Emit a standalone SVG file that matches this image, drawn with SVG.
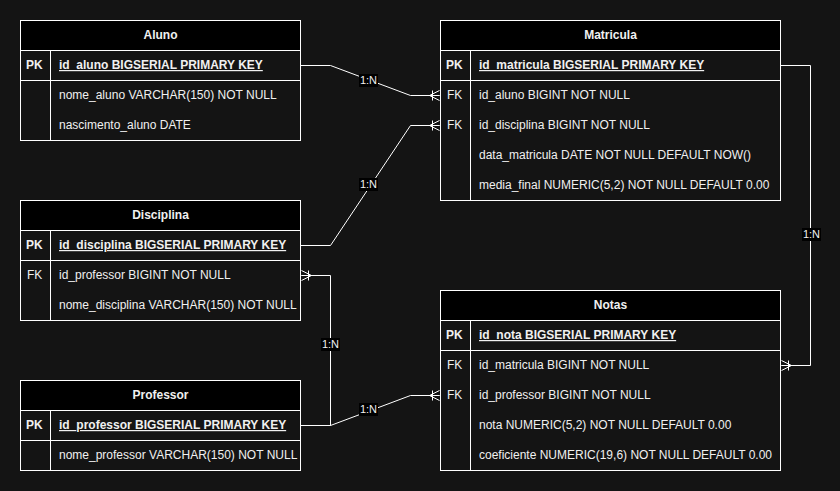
<svg xmlns="http://www.w3.org/2000/svg" width="840" height="491" viewBox="0 0 840 491">
<defs>
<style>
.bg{fill:#141414}
.box{fill:#141414;stroke:#ffffff;stroke-width:1}
.hdr{fill:#000000;stroke:#ffffff;stroke-width:1}
.ln{stroke:#ffffff;stroke-width:1;fill:none}
text{font-family:"Liberation Sans",Arial,sans-serif;font-size:12px;fill:#f0f0f0}
.t{font-weight:bold;text-anchor:middle}
.pk{font-weight:bold}
.pkf{font-weight:bold;text-decoration:underline}
.lblbg{fill:#000000}
.lbl{font-size:11px;text-anchor:middle}
</style>
<marker id="many" markerWidth="14" markerHeight="12" refX="12" refY="6" orient="auto" markerUnits="userSpaceOnUse">
<path d="M2 6 L12 1 M2 6 L12 11 M2 6 L12 6 M5 1 L5 11" stroke="#ffffff" stroke-width="1" fill="none"/>
</marker>
</defs>
<rect class="bg" x="0" y="0" width="840" height="491"/>

<g id="connectors">
<path class="ln" d="M300.5 65.5 H330.5 L410.5 95.5 H439.5" marker-end="url(#many)"/>
<path class="ln" d="M300.5 245.5 H330.5 L410.5 125.5 H439.5" marker-end="url(#many)"/>
<path class="ln" d="M780.5 65.5 H810.5 V365.5 H781.5" marker-end="url(#many)"/>
<path class="ln" d="M300.5 425.5 H330.5 V275.5 H301.5" marker-end="url(#many)"/>
<path class="ln" d="M300.5 425.5 H330.5 L410.5 395.5 H439.5" marker-end="url(#many)"/>
<rect class="lblbg" x="359" y="74" width="19" height="13"/>
<text class="lbl" x="368.5" y="84">1:N</text>
<rect class="lblbg" x="359" y="178" width="19" height="13"/>
<text class="lbl" x="368.5" y="188">1:N</text>
<rect class="lblbg" x="802" y="228" width="19" height="13"/>
<text class="lbl" x="811.5" y="238">1:N</text>
<rect class="lblbg" x="321" y="338" width="19" height="13"/>
<text class="lbl" x="330.5" y="348">1:N</text>
<rect class="lblbg" x="359" y="403" width="19" height="13"/>
<text class="lbl" x="368.5" y="413">1:N</text>
</g>

<g id="aluno">
<rect class="box" x="20.5" y="20.5" width="280" height="120"/>
<rect class="hdr" x="20.5" y="20.5" width="280" height="30"/>
<line class="ln" x1="20.5" y1="80.5" x2="300.5" y2="80.5"/>
<line class="ln" x1="50.5" y1="50.5" x2="50.5" y2="140.5"/>
<text class="t" x="160.5" y="39">Aluno</text>
<text class="pk" x="26" y="69">PK</text>
<text class="pkf" x="59" y="69">id_aluno BIGSERIAL PRIMARY KEY</text>
<text x="59" y="99">nome_aluno VARCHAR(150) NOT NULL</text>
<text x="59" y="129">nascimento_aluno DATE</text>
</g>

<g id="matricula">
<rect class="box" x="440.5" y="20.5" width="340" height="180"/>
<rect class="hdr" x="440.5" y="20.5" width="340" height="30"/>
<line class="ln" x1="440.5" y1="80.5" x2="780.5" y2="80.5"/>
<line class="ln" x1="470.5" y1="50.5" x2="470.5" y2="200.5"/>
<text class="t" x="610.5" y="39">Matricula</text>
<text class="pk" x="446" y="69">PK</text>
<text class="pkf" x="479" y="69">id_matricula BIGSERIAL PRIMARY KEY</text>
<text x="447" y="99">FK</text>
<text x="479" y="99">id_aluno BIGINT NOT NULL</text>
<text x="447" y="129">FK</text>
<text x="479" y="129">id_disciplina BIGINT NOT NULL</text>
<text x="479" y="159">data_matricula DATE NOT NULL DEFAULT NOW()</text>
<text x="479" y="189">media_final NUMERIC(5,2) NOT NULL DEFAULT 0.00</text>
</g>

<g id="disciplina">
<rect class="box" x="20.5" y="200.5" width="280" height="120"/>
<rect class="hdr" x="20.5" y="200.5" width="280" height="30"/>
<line class="ln" x1="20.5" y1="260.5" x2="300.5" y2="260.5"/>
<line class="ln" x1="50.5" y1="230.5" x2="50.5" y2="320.5"/>
<text class="t" x="160.5" y="219">Disciplina</text>
<text class="pk" x="26" y="249">PK</text>
<text class="pkf" x="59" y="249">id_disciplina BIGSERIAL PRIMARY KEY</text>
<text x="27" y="279">FK</text>
<text x="59" y="279">id_professor BIGINT NOT NULL</text>
<text x="59" y="309">nome_disciplina VARCHAR(150) NOT NULL</text>
</g>

<g id="professor">
<rect class="box" x="20.5" y="380.5" width="280" height="90"/>
<rect class="hdr" x="20.5" y="380.5" width="280" height="30"/>
<line class="ln" x1="20.5" y1="440.5" x2="300.5" y2="440.5"/>
<line class="ln" x1="50.5" y1="410.5" x2="50.5" y2="470.5"/>
<text class="t" x="160.5" y="399">Professor</text>
<text class="pk" x="26" y="429">PK</text>
<text class="pkf" x="59" y="429">id_professor BIGSERIAL PRIMARY KEY</text>
<text x="59" y="459">nome_professor VARCHAR(150) NOT NULL</text>
</g>

<g id="notas">
<rect class="box" x="440.5" y="290.5" width="340" height="180"/>
<rect class="hdr" x="440.5" y="290.5" width="340" height="30"/>
<line class="ln" x1="440.5" y1="350.5" x2="780.5" y2="350.5"/>
<line class="ln" x1="470.5" y1="320.5" x2="470.5" y2="470.5"/>
<text class="t" x="610.5" y="309">Notas</text>
<text class="pk" x="446" y="339">PK</text>
<text class="pkf" x="479" y="339">id_nota BIGSERIAL PRIMARY KEY</text>
<text x="447" y="369">FK</text>
<text x="479" y="369">id_matricula BIGINT NOT NULL</text>
<text x="447" y="399">FK</text>
<text x="479" y="399">id_professor BIGINT NOT NULL</text>
<text x="479" y="429">nota NUMERIC(5,2) NOT NULL DEFAULT 0.00</text>
<text x="479" y="459">coeficiente NUMERIC(19,6) NOT NULL DEFAULT 0.00</text>
</g>
</svg>
